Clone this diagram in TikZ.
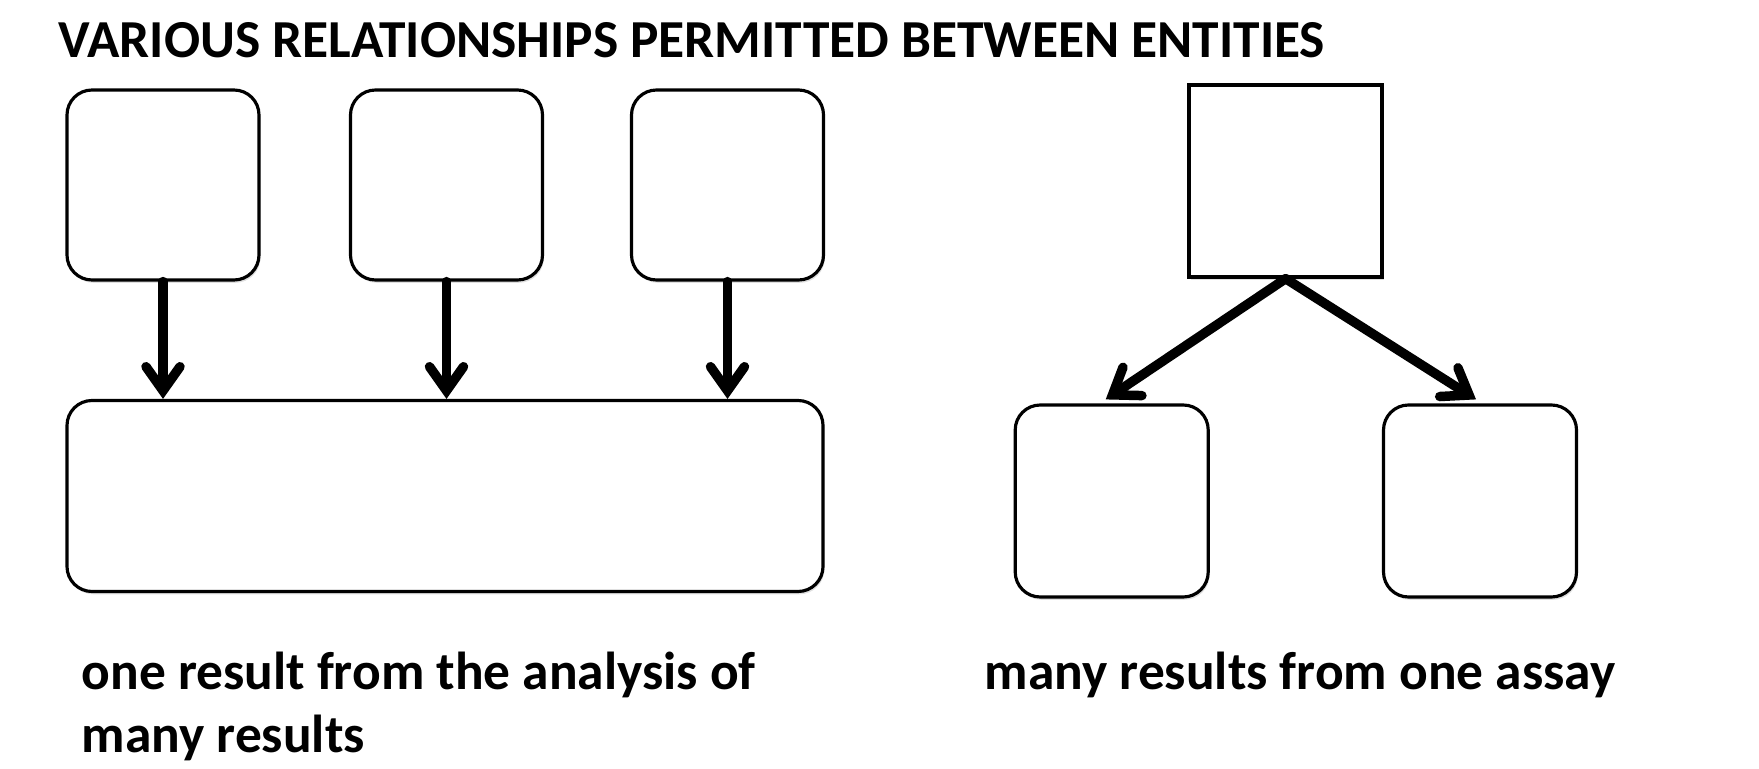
\documentclass[tikz,border=0pt]{standalone}
\usepackage{fontspec}
\setmainfont{Carlito}
\usetikzlibrary{arrows.meta,calc,positioning,shadows}

\begin{document}
\begin{tikzpicture}[
  font=\fontsize{15.2pt}{18pt}\selectfont\bfseries,
  entity/.style={draw=black, line width=0.9pt, rounded corners=0.25cm, fill=white, minimum width=1.92cm, minimum height=1.9cm, inner sep=0pt, drop shadow={opacity=0.25, shadow xshift=0.4pt, shadow yshift=-0.8pt}},
  assay/.style={draw=black, line width=0.95pt, fill=white, minimum width=1.93cm, minimum height=1.92cm, inner sep=0pt, drop shadow={opacity=0.25, shadow xshift=0.4pt, shadow yshift=-0.8pt}},
  caption/.style={anchor=base west, inner sep=0pt, align=left},
  relarrow/.style={-{Straight Barb[length=2.4mm, width=3.4mm, line cap=round]}, line width=2.7pt, line cap=round, draw=black}
]
\useasboundingbox (0,0) rectangle (17.59,7.68);

\node[caption] (title) at (0.58,7.10) {VARIOUS RELATIONSHIPS PERMITTED BETWEEN ENTITIES};

% many results -> one result
\node[entity] (res1) at (1.63,5.83) {};
\node[entity] (res2) at (4.465,5.83) {};
\node[entity] (res3) at (7.275,5.83) {};
\node[entity, minimum width=7.56cm, minimum height=1.91cm] (analysis) at (4.45,2.72) {};

\foreach \n in {res1,res2,res3}
  \draw[relarrow] (\n.south) -- (\n.south |- analysis.north);

% one assay -> many results
\node[assay] (assay) at (12.856,5.87) {};
\node[entity, minimum height=1.92cm, minimum width=1.93cm] (out1) at (11.117,2.67) {};
\node[entity, minimum height=1.92cm, minimum width=1.93cm] (out2) at (14.80,2.67) {};

\draw[relarrow] (assay.south) -- ($(out1.north)+(-0.06,0.04)$);
\draw[relarrow] (assay.south) -- ($(out2.north)+(-0.04,0.04)$);

\node[caption] (manyone) at (0.81,0.79) {one result from the analysis of};
\node[caption] (manyone2) at (0.81,0.16) {many results};
\node[caption] (onemany) at (9.84,0.79) {many results from one assay};
\end{tikzpicture}
\end{document}
